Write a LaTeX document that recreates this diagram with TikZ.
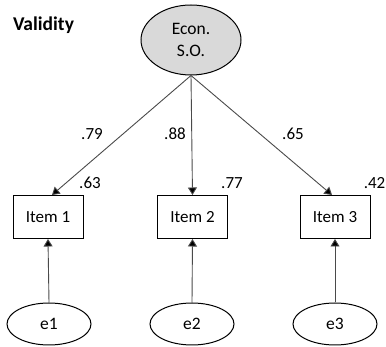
\documentclass[tikz,border=0pt]{standalone}
\usepackage{fontspec}
\setmainfont{Carlito}
\usetikzlibrary{arrows.meta,shapes.geometric}
\definecolor{linegray}{HTML}{4A4A4A}
\definecolor{latentfill}{HTML}{D9D9D9}
\tikzset{
  latent/.style={ellipse, draw=black, line width=1pt, fill=latentfill, minimum width=100pt, minimum height=70pt, inner sep=0pt, align=center, font=\fontsize{17.5}{22}\selectfont},
  errnode/.style={ellipse, draw=black, line width=1pt, fill=white, minimum width=84pt, minimum height=42pt, inner sep=0pt, font=\fontsize{17.5}{20}\selectfont},
  itembox/.style={rectangle, draw=black, line width=1pt, fill=white, minimum width=70pt, minimum height=43pt, inner sep=0pt, font=\fontsize{17}{20}\selectfont},
  coef/.style={inner sep=0pt, font=\fontsize{17}{20}\selectfont},
  path/.style={draw=linegray, line width=0.9pt, -{Triangle[length=7.5pt,width=9pt,fill=black]}},
}
\begin{document}
\begin{tikzpicture}[x=1pt,y=-1pt]
\useasboundingbox (0,0) rectangle (386,347);
\node[inner sep=0pt, font=\bfseries\fontsize{19.5}{22}\selectfont] (title) at (43.5,25) {Validity};
\node[latent] (F) at (191,40) {Econ.\\S.O.};
\node[itembox] (I1) at (48,217) {Item 1};
\node[itembox] (I2) at (192.5,217) {Item 2};
\node[itembox] (I3) at (335,217) {Item 3};
\node[errnode] (E1) at (49,324) {e1};
\node[errnode] (E2) at (192,324) {e2};
\node[errnode] (E3) at (335,324) {e3};
\draw[path] (F.south) -- ([xshift=4pt]I1.north);
\draw[path] (F.south) -- (I2.north);
\draw[path] (F.south) -- ([xshift=-3pt]I3.north);
\draw[path] (E1.north) -- (I1.south);
\draw[path] (E2.north) -- (I2.south);
\draw[path] (E3.north) -- (I3.south);
\node[coef] (l1) at (92,134) {.79};
\node[coef] (l2) at (175,134) {.88};
\node[coef] (l3) at (293,134) {.65};
\node[coef] (r1) at (90,183) {.63};
\node[coef] (r2) at (232,183) {.77};
\node[coef, anchor=east] (r3) at (385.5,183) {.42};
\end{tikzpicture}
\end{document}
